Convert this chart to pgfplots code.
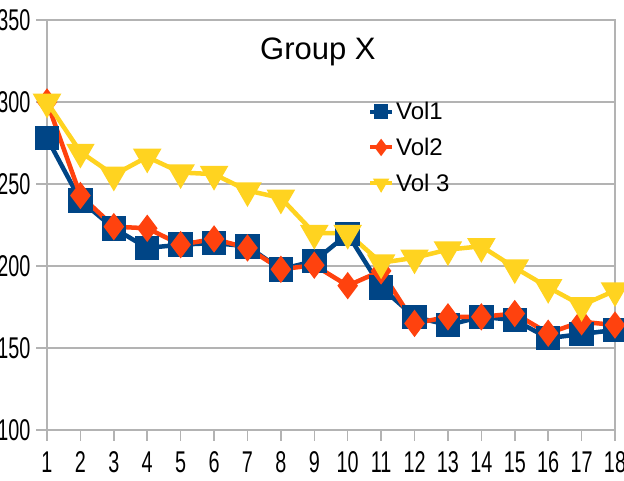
\documentclass[border=0pt]{standalone}
\usepackage{pgfplots}
\pgfplotsset{compat=1.18}
\usepackage{fontspec}
\setmainfont{Liberation Sans}
\newfontfamily\narrowfont[FakeStretch=0.66]{Liberation Sans}
\definecolor{c1}{HTML}{004586}
\definecolor{c2}{HTML}{FF420E}
\definecolor{c3}{HTML}{FFD320}
\definecolor{gridgray}{HTML}{B3B3B3}
\begin{document}
\begin{tikzpicture}
\useasboundingbox (-47pt,-51pt) rectangle (577pt,430pt);
\clip (-47pt,-51pt) rectangle (577pt,430pt);
\begin{axis}[
  at={(0pt,0pt)}, anchor=south west,
  scale only axis, width=568pt, height=410pt,
  xmin=1, xmax=18, ymin=100, ymax=350,
  xtick={1,...,18}, ytick={100,150,...,350},
  ymajorgrids, grid style={gridgray, line width=1.5pt},
  axis line style={gridgray, line width=1.5pt},
  every tick/.style={gridgray, line width=1.5pt},
  tick align=outside, major tick length=11pt,
  xtick pos=bottom, ytick pos=left,
  ticklabel style={font=\narrowfont\fontsize{30}{30}\selectfont, text=black},
  yticklabel style={xshift=-2pt},
  xticklabel style={yshift=-7pt},
  /pgf/number format/assume math mode=true,
  legend style={draw=none, fill=none, at={(0.565,0.805)}, anchor=north west,
    font=\fontsize{24}{24}\selectfont, row sep=13pt, inner sep=0pt},
  legend cell align=left,
  legend image code/.code={
    \draw[#1, line width=4pt, mark=none] (0pt,0pt) -- (22pt,0pt);
    \draw[#1, only marks, mark size=5pt] plot coordinates {(11pt,0pt)};
  },
]
\addplot[color=c1, line width=4.5pt, mark=square*, mark size=10pt, mark options={solid}] coordinates {
(1,278) (2,240) (3,223) (4,211) (5,213) (6,214) (7,212) (8,198) (9,203)
(10,219.5) (11,187) (12,169) (13,164) (14,169) (15,167) (16,156) (17,158.5) (18,161)};
\addlegendentry{Vol1}
\addplot[color=c2, line width=4.5pt, mark=diamond*, mark size=10pt, mark options={solid}] coordinates {
(1,300) (2,243) (3,224) (4,223) (5,213) (6,216.5) (7,211) (8,198) (9,200.5)
(10,188) (11,197) (12,165) (13,169) (14,169) (15,171) (16,159) (17,166) (18,164)};
\addlegendentry{Vol2}
\addplot[color=c3, line width=4.5pt, mark=triangle*, mark size=12pt, mark options={solid, rotate=180}] coordinates {
(1,300) (2,269.5) (3,255.5) (4,266.5) (5,257) (6,256) (7,246) (8,241.5) (9,220)
(10,220) (11,202) (12,205) (13,210) (14,212) (15,199) (16,187) (17,176) (18,185)};
\addlegendentry{Vol 3}
\node[font=\fontsize{31}{31}\selectfont] at (rel axis cs:0.477,0.922) {Group X};
\end{axis}
\end{tikzpicture}
\end{document}
